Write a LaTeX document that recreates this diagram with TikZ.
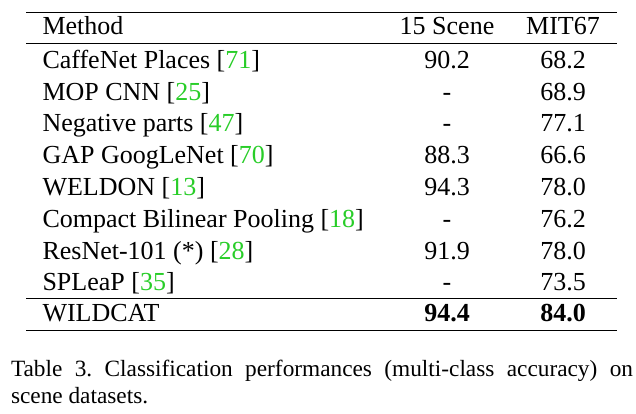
\documentclass[tikz,border=0pt]{standalone}
\usepackage{fontspec}
\setmainfont{Liberation Serif}
\frenchspacing
\definecolor{citegreen}{RGB}{40,205,40}
\newcommand{\cit}[1]{[\textcolor{citegreen}{#1}]}
\tikzset{
  cell/.style={inner sep=0pt, outer sep=0pt, font=\fontsize{26}{31}\selectfont},
  lcell/.style={cell, anchor=base west},
  ccell/.style={cell, anchor=base},
  rulet/.style={line width=1.3pt},
  rulem/.style={line width=1.1pt},
  capt/.style={inner sep=0pt, outer sep=0pt, anchor=base west, font=\fontsize{23.3}{28}\selectfont},
}
\begin{document}
\begin{tikzpicture}[x=1pt,y=-1pt]
\useasboundingbox (0,0) rectangle (636,413);
% rules
\coordinate (r1l) at (26,12.7);  \coordinate (r1r) at (617,12.7);
\coordinate (r2l) at (26,43.3);  \coordinate (r2r) at (617,43.3);
\coordinate (r3l) at (26,298.3); \coordinate (r3r) at (617,298.3);
\coordinate (r4l) at (26,330.5); \coordinate (r4r) at (617,330.5);
\draw[rulet] (r1l) -- (r1r);
\draw[rulem] (r2l) -- (r2r);
\draw[rulem] (r3l) -- (r3r);
\draw[rulet] (r4l) -- (r4r);
% header
\node[lcell] (h1) at (42.5,34.3) {Method};
\node[ccell] (h2) at (447,34.3) {15 Scene};
\node[ccell] (h3) at (563,34.3) {MIT67};
% rows
\node[lcell] (a1) at (42.5,68.3) {CaffeNet Places \cit{71}};
\node[ccell] (b1) at (447,68.3) {90.2};
\node[ccell] (c1) at (563,68.3) {68.2};
\node[lcell] (a2) at (42.5,100.1) {MOP CNN \cit{25}};
\node[ccell] (b2) at (447,100.1) {-};
\node[ccell] (c2) at (563,100.1) {68.9};
\node[lcell] (a3) at (42.5,131.9) {Negative parts \cit{47}};
\node[ccell] (b3) at (447,131.9) {-};
\node[ccell] (c3) at (563,131.9) {77.1};
\node[lcell] (a4) at (42.5,163.7) {GAP GoogLeNet \cit{70}};
\node[ccell] (b4) at (447,163.7) {88.3};
\node[ccell] (c4) at (563,163.7) {66.6};
\node[lcell] (a5) at (42.5,195.5) {WELDON \cit{13}};
\node[ccell] (b5) at (447,195.5) {94.3};
\node[ccell] (c5) at (563,195.5) {78.0};
\node[lcell] (a6) at (42.5,227.3) {Compact Bilinear Pooling \cit{18}};
\node[ccell] (b6) at (447,227.3) {-};
\node[ccell] (c6) at (563,227.3) {76.2};
\node[lcell] (a7) at (42.5,259.1) {ResNet-101 (*) \cit{28}};
\node[ccell] (b7) at (447,259.1) {91.9};
\node[ccell] (c7) at (563,259.1) {78.0};
\node[lcell] (a8) at (42.5,290.9) {SPLeaP \cit{35}};
\node[ccell] (b8) at (447,290.9) {-};
\node[ccell] (c8) at (563,290.9) {73.5};
\node[lcell] (a9) at (42.5,321) {WILDCAT};
\node[ccell] (b9) at (447,321) {\textbf{94.4}};
\node[ccell] (c9) at (563,321) {\textbf{84.0}};
% caption
\node[capt] (cap1) at (11,376.7) {\makebox[622pt][s]{Table 3. Classification performances (multi-class accuracy) on}};
\node[capt] (cap2) at (11,403.5) {scene datasets.};
\end{tikzpicture}
\end{document}
